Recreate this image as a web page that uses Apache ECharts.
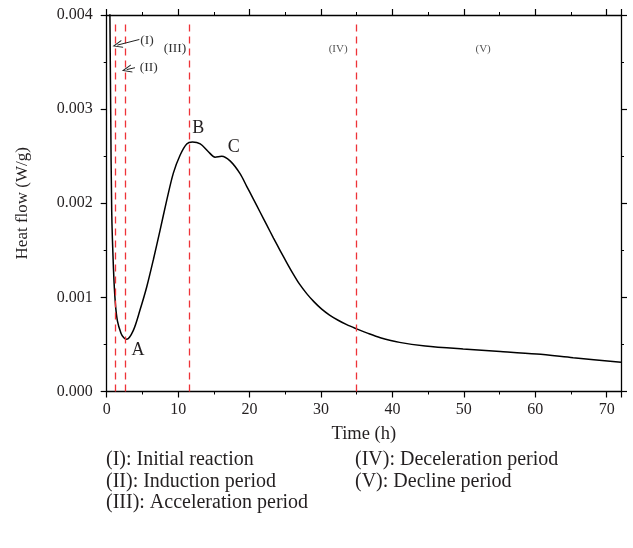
<!DOCTYPE html>
<html>
<head>
<meta charset="utf-8">
<script src="https://cdn.jsdelivr.net/npm/echarts@6/dist/echarts.min.js"></script>
<style>html,body{margin:0;padding:0;background:#fff;}#c{width:633px;height:548px;}</style>
</head>
<body>
<div id="c"></div>
<script>
const timeH = [0.2, 0.45, 0.56, 0.7, 0.95, 1.2, 1.5, 2.0, 2.4, 2.8, 3.73, 4.66, 5.6, 6.53, 7.46, 8.4, 9.33, 10.27, 11.2, 12.0, 13.1, 14.2, 15.17, 16.1, 17.27, 18.67, 19.6, 20.5, 21.45, 22.4, 23.35, 24.3, 25.2, 26.1, 27.0, 28.0, 29.0, 30.1, 31.2, 32.4, 33.6, 34.9, 36.5, 38.3, 41.0, 44.6, 49.9, 55.1, 60.2, 65.3, 72];
const heatFlow = [0.0060, 0.0040, 0.00297, 0.00192, 0.0013, 0.00095, 0.00075, 0.00062, 0.00057, 0.000555, 0.00065, 0.000865, 0.00111, 0.0014, 0.00171, 0.00203, 0.00232, 0.00251, 0.00263, 0.00265, 0.00263, 0.00255, 0.00249, 0.0025, 0.00245, 0.002315, 0.00218, 0.00205, 0.00191, 0.00177, 0.00163, 0.001495, 0.00137, 0.00125, 0.00114, 0.00104, 0.000955, 0.000875, 0.000812, 0.000757, 0.00071, 0.000668, 0.00062, 0.000572, 0.000522, 0.000484, 0.000452, 0.000426, 0.000398, 0.000359, 0.00031];
const stageLines = [1.26, 2.6, 11.57, 34.9];
const stageLabels = [
  {text: '(I)', t: 5.64, v: 0.00373, size: 13.5, color: '#333'},
  {text: '(II)', t: 5.9, v: 0.00344, size: 13.5, color: '#333'},
  {text: '(III)', t: 9.57, v: 0.00364, size: 13.5, color: '#333'},
  {text: '(IV)', t: 32.4, v: 0.00364, size: 11, color: '#555'},
  {text: '(V)', t: 52.7, v: 0.00364, size: 11, color: '#555'}
];
const pointLabels = [
  {text: 'A', t: 4.38, v: 0.00044},
  {text: 'B', t: 12.8, v: 0.0028},
  {text: 'C', t: 17.8, v: 0.0026}
];
const arrows = [
  {from: [4.57, 0.00374], to: [1.49, 0.00368]},
  {from: [3.96, 0.00344], to: [2.8, 0.00342]}
];
const legendLeft = ['(I): Initial reaction', '(II): Induction period', '(III): Acceleration period'];
const legendRight = ['(IV): Deceleration period', '(V): Decline period'];
const xTicks = {min: 0, max: 72, interval: 10};
const yTicks = {min: 0, max: 0.004, interval: 0.001};
const dashTop = 0.0039;

const FONT = '"Liberation Serif", "DejaVu Serif", serif';
const TXT = '#231f20';
const chart = echarts.init(document.getElementById('c'), null, {renderer: 'canvas'});

const axisLineStyle = {show: true, onZero: false, lineStyle: {color: '#000', width: 1.3}};
const tickStyle = {show: true, inside: false, length: 6, lineStyle: {color: '#000', width: 1.2}};
const minorStyle = {show: true, splitNumber: 2, length: 3, lineStyle: {color: '#000', width: 1}};
const legendGraphics = [];
legendLeft.forEach((s, i) => legendGraphics.push({type: 'text', left: 106, top: 450 + i * 21.5, style: {text: s, font: '20px ' + FONT, fill: TXT}}));
legendRight.forEach((s, i) => legendGraphics.push({type: 'text', left: 355, top: 450 + i * 21.5, style: {text: s, font: '20px ' + FONT, fill: TXT}}));

const arrowSym = 'path://M0,12L5,0L10,12L8.8,12L5,3L1.2,12Z';

chart.setOption({
  animation: false,
  backgroundColor: '#fff',
  grid: {left: 106.7, right: 12, top: 15, bottom: 156.5, containLabel: false},
  xAxis: [{
    type: 'value', min: xTicks.min, max: xTicks.max, interval: xTicks.interval, position: 'bottom',
    name: 'Time (h)', nameLocation: 'middle', nameGap: 33,
    nameTextStyle: {fontFamily: FONT, fontSize: 18.5, color: TXT},
    axisLine: axisLineStyle, axisTick: tickStyle, minorTick: minorStyle,
    axisLabel: {fontFamily: FONT, fontSize: 16, color: TXT, margin: 10, showMaxLabel: false},
    splitLine: {show: false}
  }, {
    type: 'value', min: xTicks.min, max: xTicks.max, interval: xTicks.interval, position: 'top',
    axisLine: axisLineStyle, axisTick: tickStyle, minorTick: minorStyle,
    axisLabel: {show: false}, splitLine: {show: false}
  }],
  yAxis: [{
    type: 'value', min: yTicks.min, max: yTicks.max, interval: yTicks.interval, position: 'left',
    name: 'Heat flow (W/g)', nameLocation: 'middle', nameGap: 76,
    nameTextStyle: {fontFamily: FONT, fontSize: 17, color: TXT},
    axisLine: axisLineStyle, axisTick: tickStyle, minorTick: minorStyle,
    axisLabel: {fontFamily: FONT, fontSize: 16, color: TXT, margin: 14, formatter: v => v.toFixed(3)},
    splitLine: {show: false}
  }, {
    type: 'value', min: yTicks.min, max: yTicks.max, interval: yTicks.interval, position: 'right',
    axisLine: axisLineStyle, axisTick: tickStyle, minorTick: minorStyle,
    axisLabel: {show: false}, splitLine: {show: false}
  }],
  graphic: legendGraphics,
  series: [{
    type: 'line',
    data: timeH.map((t, i) => [t, heatFlow[i]]),
    smooth: 0.3,
    symbol: 'none',
    clip: true,
    lineStyle: {color: '#000', width: 1.5},
    markLine: {
      silent: true, symbol: ['none', 'none'],
      label: {show: false},
      lineStyle: {color: '#ee3338', type: [7, 5], width: 1.3},
      data: stageLines.map(x => [{coord: [x, dashTop]}, {coord: [x, 0]}])
    },
    markPoint: {
      silent: true,
      symbol: 'circle', symbolSize: 0,
      data: stageLabels.map(l => ({coord: [l.t, l.v], label: {show: true, position: 'inside', formatter: l.text, fontFamily: FONT, fontSize: l.size, color: l.color}}))
        .concat(pointLabels.map(l => ({coord: [l.t, l.v], label: {show: true, position: 'inside', formatter: l.text, fontFamily: FONT, fontSize: 18, color: TXT}})))
    }
  }, {
    type: 'line',
    data: [],
    markLine: {
      silent: true,
      symbol: ['none', arrowSym], symbolSize: [8, 10],
      label: {show: false},
      lineStyle: {color: '#222', type: 'solid', width: 1},
      data: arrows.map(a => [{coord: a.from}, {coord: a.to}])
    }
  }]
});
</script>
</body>
</html>
